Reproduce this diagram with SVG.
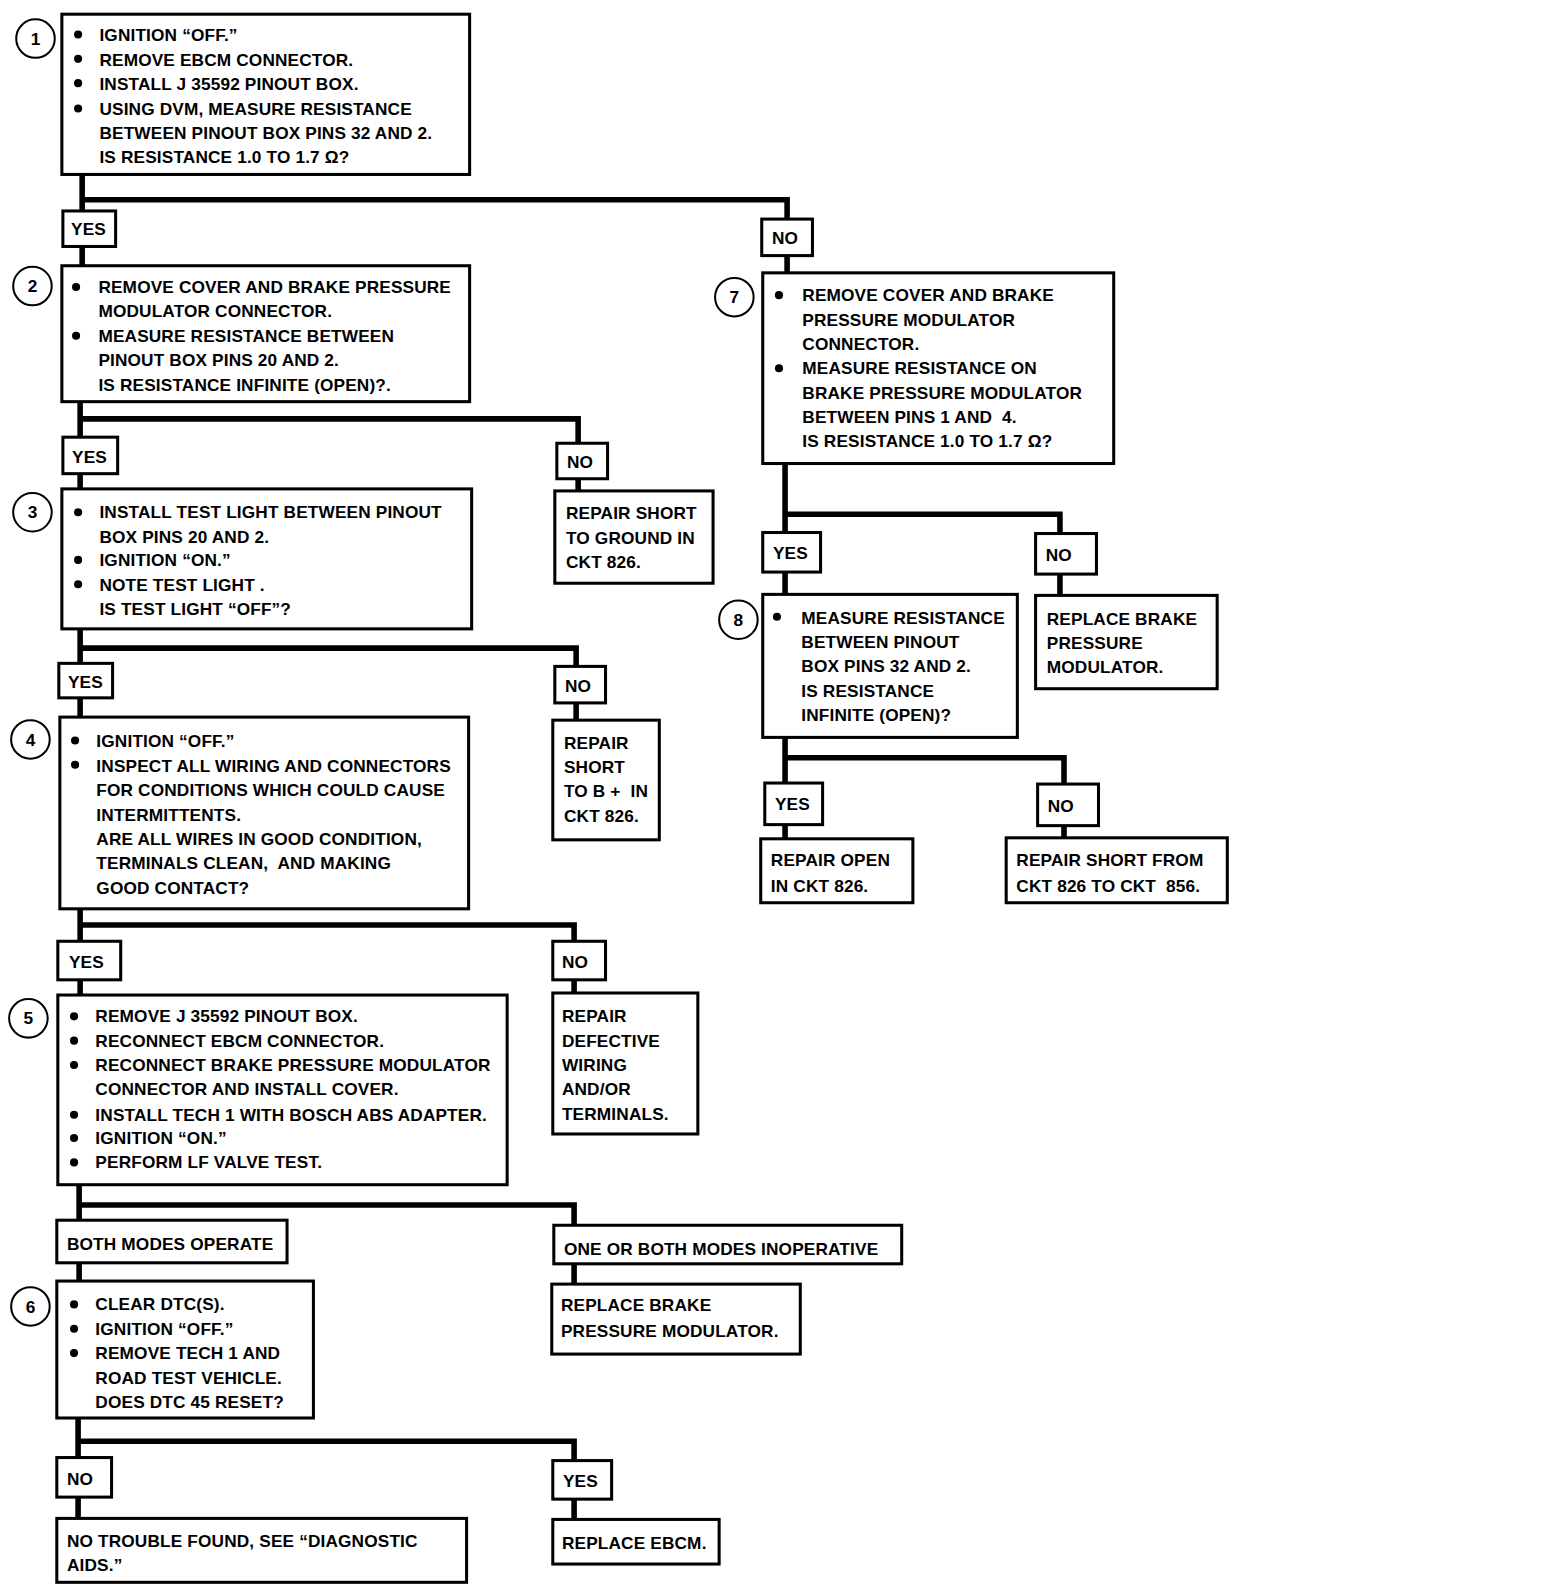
<svg xmlns="http://www.w3.org/2000/svg" width="1568" height="1590" viewBox="0 0 1568 1590">
<style>
.b{fill:#fff;stroke:#000;stroke-width:3}
.c{fill:none;stroke:#000;stroke-width:5.5;stroke-linejoin:miter;stroke-linecap:square}
.n{fill:#fff;stroke:#000;stroke-width:2}
text{font-family:"Liberation Sans",Arial,sans-serif;font-weight:bold;font-size:17px;letter-spacing:0.15px;fill:#000;white-space:pre}
.num{text-anchor:middle;font-size:17px;letter-spacing:0}
.d{fill:#000}
</style>
<rect width="1568" height="1590" fill="#fff"/>
<g transform="scale(1.0143)">
<g id="connectors">
<path class="c" d="M81 172V208M81 197H776V216M776 252V269M81 243V262"/>
<path class="c" d="M79 396V431M79 413H570V437M570 472V484M79 467V482"/>
<path class="c" d="M79 620V654M79 639H568V657M568 693V710M79 688V707"/>
<path class="c" d="M79 896V928M79 912H566V928M566 966V979M79 966V981"/>
<path class="c" d="M78 1168V1203M78 1188H566V1208M566 1246V1266M78 1245V1263"/>
<path class="c" d="M77 1398V1437M77 1421H566V1440M77 1476V1497M566 1478V1498"/>
<path class="c" d="M774 457V525M774 507H1045V526M1045 566V587M774 564V586"/>
<path class="c" d="M774 727V772M774 747H1049V773M774 813V827M1049 814V826"/>
</g>
<g id="n1">
<circle class="n" cx="35" cy="38" r="19"/><text class="num" x="35" y="44">1</text>
<rect class="b" x="61" y="14" width="402" height="158"/>
<circle class="d" cx="77" cy="34" r="4"/><circle class="d" cx="77" cy="58" r="4"/><circle class="d" cx="77" cy="82" r="4"/><circle class="d" cx="77" cy="107" r="4"/>
<text x="98" y="40">IGNITION “OFF.”</text>
<text x="98" y="65">REMOVE EBCM CONNECTOR.</text>
<text x="98" y="89">INSTALL J 35592 PINOUT BOX.</text>
<text x="98" y="113">USING DVM, MEASURE RESISTANCE</text>
<text x="98" y="137">BETWEEN PINOUT BOX PINS 32 AND 2.</text>
<text x="98" y="161">IS RESISTANCE 1.0 TO 1.7 Ω?</text>
</g>
<g id="yes1"><rect class="b" x="62" y="208" width="52" height="35"/><text x="70" y="232">YES</text></g>
<g id="no1"><rect class="b" x="751" y="216" width="50" height="36"/><text x="761" y="241">NO</text></g>
<g id="n2">
<circle class="n" cx="32" cy="282" r="19"/><text class="num" x="32" y="288">2</text>
<rect class="b" x="61" y="262" width="402" height="134"/>
<circle class="d" cx="75" cy="283" r="4"/><circle class="d" cx="75" cy="331" r="4"/>
<text x="97" y="289">REMOVE COVER AND BRAKE PRESSURE</text>
<text x="97" y="313">MODULATOR CONNECTOR.</text>
<text x="97" y="337">MEASURE RESISTANCE BETWEEN</text>
<text x="97" y="361">PINOUT BOX PINS 20 AND 2.</text>
<text x="97" y="385">IS RESISTANCE INFINITE (OPEN)?.</text>
</g>
<g id="yes2"><rect class="b" x="62" y="431" width="54" height="36"/><text x="71" y="456">YES</text></g>
<g id="no2"><rect class="b" x="549" y="437" width="50" height="35"/><text x="559" y="461">NO</text></g>
<g id="r2"><rect class="b" x="547" y="484" width="156" height="91"/>
<text x="558" y="512">REPAIR SHORT</text><text x="558" y="536">TO GROUND IN</text><text x="558" y="560">CKT 826.</text></g>
<g id="n3">
<circle class="n" cx="32" cy="505" r="19"/><text class="num" x="32" y="511">3</text>
<rect class="b" x="61" y="482" width="404" height="138"/>
<circle class="d" cx="77" cy="505" r="4"/><circle class="d" cx="77" cy="552" r="4"/><circle class="d" cx="77" cy="576" r="4"/>
<text x="98" y="511">INSTALL TEST LIGHT BETWEEN PINOUT</text>
<text x="98" y="535">BOX PINS 20 AND 2.</text>
<text x="98" y="558">IGNITION “ON.”</text>
<text x="98" y="583">NOTE TEST LIGHT .</text>
<text x="98" y="606">IS TEST LIGHT “OFF”?</text>
</g>
<g id="yes3"><rect class="b" x="58" y="654" width="53" height="34"/><text x="67" y="678">YES</text></g>
<g id="no3"><rect class="b" x="547" y="657" width="50" height="36"/><text x="557" y="682">NO</text></g>
<g id="r3"><rect class="b" x="545" y="710" width="105" height="118"/>
<text x="556" y="738">REPAIR</text><text x="556" y="762">SHORT</text><text x="556" y="786">TO B +  IN</text><text x="556" y="810">CKT 826.</text></g>
<g id="n4">
<circle class="n" cx="30" cy="729" r="19"/><text class="num" x="30" y="735">4</text>
<rect class="b" x="59" y="707" width="403" height="189"/>
<circle class="d" cx="74" cy="730" r="4"/><circle class="d" cx="74" cy="754" r="4"/>
<text x="95" y="736">IGNITION “OFF.”</text>
<text x="95" y="761">INSPECT ALL WIRING AND CONNECTORS</text>
<text x="95" y="785">FOR CONDITIONS WHICH COULD CAUSE</text>
<text x="95" y="809">INTERMITTENTS.</text>
<text x="95" y="833">ARE ALL WIRES IN GOOD CONDITION,</text>
<text x="95" y="857">TERMINALS CLEAN,  AND MAKING</text>
<text x="95" y="881">GOOD CONTACT?</text>
</g>
<g id="yes4"><rect class="b" x="57" y="928" width="62" height="38"/><text x="68" y="954">YES</text></g>
<g id="no4"><rect class="b" x="545" y="928" width="52" height="38"/><text x="554" y="954">NO</text></g>
<g id="r4"><rect class="b" x="545" y="979" width="143" height="139"/>
<text x="554" y="1008">REPAIR</text><text x="554" y="1032">DEFECTIVE</text><text x="554" y="1056">WIRING</text><text x="554" y="1080">AND/OR</text><text x="554" y="1104">TERMINALS.</text></g>
<g id="n5">
<circle class="n" cx="28" cy="1004" r="19"/><text class="num" x="28" y="1010">5</text>
<rect class="b" x="57" y="981" width="443" height="187"/>
<circle class="d" cx="73" cy="1002" r="4"/><circle class="d" cx="73" cy="1026" r="4"/><circle class="d" cx="73" cy="1050" r="4"/><circle class="d" cx="73" cy="1099" r="4"/><circle class="d" cx="73" cy="1122" r="4"/><circle class="d" cx="73" cy="1146" r="4"/>
<text x="94" y="1008">REMOVE J 35592 PINOUT BOX.</text>
<text x="94" y="1032">RECONNECT EBCM CONNECTOR.</text>
<text x="94" y="1056">RECONNECT BRAKE PRESSURE MODULATOR</text>
<text x="94" y="1080">CONNECTOR AND INSTALL COVER.</text>
<text x="94" y="1105">INSTALL TECH 1 WITH BOSCH ABS ADAPTER.</text>
<text x="94" y="1128">IGNITION “ON.”</text>
<text x="94" y="1152">PERFORM LF VALVE TEST.</text>
</g>
<g id="both"><rect class="b" x="56" y="1203" width="227" height="42"/><text x="66" y="1232">BOTH MODES OPERATE</text></g>
<g id="one"><rect class="b" x="546" y="1208" width="343" height="38"/><text x="556" y="1237">ONE OR BOTH MODES INOPERATIVE</text></g>
<g id="r5"><rect class="b" x="544" y="1266" width="245" height="69"/>
<text x="553" y="1293">REPLACE BRAKE</text><text x="553" y="1318">PRESSURE MODULATOR.</text></g>
<g id="n6">
<circle class="n" cx="30" cy="1288" r="19"/><text class="num" x="30" y="1294">6</text>
<rect class="b" x="56" y="1263" width="253" height="135"/>
<circle class="d" cx="73" cy="1286" r="4"/><circle class="d" cx="73" cy="1310" r="4"/><circle class="d" cx="73" cy="1334" r="4"/>
<text x="94" y="1292">CLEAR DTC(S).</text>
<text x="94" y="1316">IGNITION “OFF.”</text>
<text x="94" y="1340">REMOVE TECH 1 AND</text>
<text x="94" y="1364">ROAD TEST VEHICLE.</text>
<text x="94" y="1388">DOES DTC 45 RESET?</text>
</g>
<g id="no6"><rect class="b" x="56" y="1437" width="54" height="39"/><text x="66" y="1464">NO</text></g>
<g id="yes6"><rect class="b" x="545" y="1440" width="58" height="38"/><text x="555" y="1466">YES</text></g>
<g id="ntf"><rect class="b" x="56" y="1497" width="404" height="63"/>
<text x="66" y="1525">NO TROUBLE FOUND, SEE “DIAGNOSTIC</text><text x="66" y="1549">AIDS.”</text></g>
<g id="ebcm"><rect class="b" x="545" y="1498" width="164" height="44"/><text x="554" y="1527">REPLACE EBCM.</text></g>
<g id="n7">
<circle class="n" cx="724" cy="293" r="19"/><text class="num" x="724" y="299">7</text>
<rect class="b" x="752" y="269" width="346" height="188"/>
<circle class="d" cx="768" cy="291" r="4"/><circle class="d" cx="768" cy="363" r="4"/>
<text x="791" y="297">REMOVE COVER AND BRAKE</text>
<text x="791" y="321">PRESSURE MODULATOR</text>
<text x="791" y="345">CONNECTOR.</text>
<text x="791" y="369">MEASURE RESISTANCE ON</text>
<text x="791" y="393">BRAKE PRESSURE MODULATOR</text>
<text x="791" y="417">BETWEEN PINS 1 AND  4.</text>
<text x="791" y="441">IS RESISTANCE 1.0 TO 1.7 Ω?</text>
</g>
<g id="yes7"><rect class="b" x="752" y="525" width="57" height="39"/><text x="762" y="551">YES</text></g>
<g id="no7"><rect class="b" x="1021" y="526" width="60" height="40"/><text x="1031" y="553">NO</text></g>
<g id="r7"><rect class="b" x="1021" y="587" width="179" height="92"/>
<text x="1032" y="616">REPLACE BRAKE</text><text x="1032" y="640">PRESSURE</text><text x="1032" y="664">MODULATOR.</text></g>
<g id="n8">
<circle class="n" cx="728" cy="611" r="19"/><text class="num" x="728" y="617">8</text>
<rect class="b" x="752" y="586" width="251" height="141"/>
<circle class="d" cx="766" cy="608" r="4"/>
<text x="790" y="615">MEASURE RESISTANCE</text>
<text x="790" y="639">BETWEEN PINOUT</text>
<text x="790" y="663">BOX PINS 32 AND 2.</text>
<text x="790" y="687">IS RESISTANCE</text>
<text x="790" y="711">INFINITE (OPEN)?</text>
</g>
<g id="yes8"><rect class="b" x="754" y="772" width="57" height="41"/><text x="764" y="799">YES</text></g>
<g id="no8"><rect class="b" x="1023" y="773" width="60" height="41"/><text x="1033" y="801">NO</text></g>
<g id="r8a"><rect class="b" x="750" y="827" width="150" height="63"/>
<text x="760" y="854">REPAIR OPEN</text><text x="760" y="879">IN CKT 826.</text></g>
<g id="r8b"><rect class="b" x="992" y="826" width="218" height="64"/>
<text x="1002" y="854">REPAIR SHORT FROM</text><text x="1002" y="879">CKT 826 TO CKT  856.</text></g>
</g>
</svg>
